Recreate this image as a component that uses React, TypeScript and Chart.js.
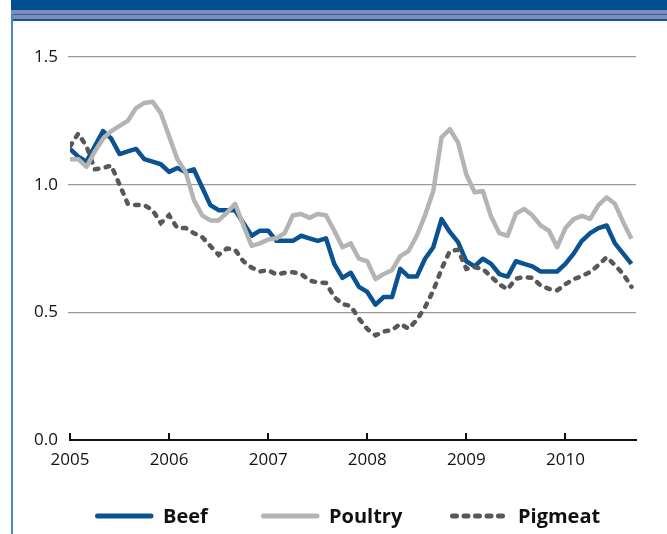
import React, { useEffect, useRef } from "react";
import { Chart, registerables } from "chart.js";

Chart.register(...registerables);

const years = ["2005", "2006", "2007", "2008", "2009", "2010"];
const yTicks = [0, 0.5, 1.0, 1.5];

const beef = [
  1.14, 1.11, 1.09, 1.15, 1.21, 1.18, 1.12, 1.13, 1.14, 1.10, 1.09, 1.08,
  1.05, 1.065, 1.05, 1.06, 0.99, 0.92, 0.90, 0.90, 0.90, 0.85, 0.80, 0.82,
  0.82, 0.78, 0.78, 0.78, 0.80, 0.79, 0.78, 0.79, 0.69, 0.635, 0.655, 0.60,
  0.58, 0.53, 0.56, 0.56, 0.67, 0.64, 0.64, 0.71, 0.755, 0.865, 0.815, 0.775,
  0.70, 0.68, 0.71, 0.69, 0.65, 0.64, 0.70, 0.69, 0.68, 0.66, 0.66, 0.66,
  0.69, 0.73, 0.78, 0.81, 0.83, 0.84, 0.77, 0.73, 0.69,
];

const poultry = [
  1.10, 1.10, 1.07, 1.13, 1.18, 1.21, 1.23, 1.25, 1.30, 1.32, 1.325, 1.28,
  1.19, 1.10, 1.05, 0.94, 0.88, 0.86, 0.86, 0.89, 0.925, 0.84, 0.76, 0.77,
  0.785, 0.79, 0.81, 0.88, 0.885, 0.87, 0.885, 0.88, 0.82, 0.755, 0.77, 0.71,
  0.70, 0.63, 0.65, 0.665, 0.72, 0.74, 0.80, 0.88, 0.975, 1.185, 1.217, 1.165,
  1.04, 0.97, 0.975, 0.875, 0.81, 0.80, 0.886, 0.905, 0.88, 0.84, 0.82, 0.755,
  0.83, 0.865, 0.878, 0.866, 0.92, 0.95, 0.925, 0.853, 0.788,
];

const pigmeat = [
  1.15, 1.20, 1.15, 1.06, 1.065, 1.075, 1.00, 0.925, 0.92, 0.92, 0.90, 0.85,
  0.88, 0.83, 0.83, 0.81, 0.795, 0.76, 0.725, 0.75, 0.745, 0.70, 0.675, 0.66,
  0.665, 0.648, 0.655, 0.657, 0.65, 0.625, 0.617, 0.615, 0.56, 0.532, 0.525, 0.475,
  0.435, 0.41, 0.425, 0.43, 0.455, 0.436, 0.47, 0.52, 0.585, 0.67, 0.74, 0.745,
  0.67, 0.677, 0.67, 0.64, 0.61, 0.59, 0.632, 0.638, 0.635, 0.605, 0.592, 0.586,
  0.61, 0.63, 0.642, 0.658, 0.685, 0.716, 0.685, 0.65, 0.60,
];

const seriesNames = ["Beef", "Poultry", "Pigmeat"];

const BEEF_COLOR = "#0a5291";
const POULTRY_COLOR = "#b4b4b4";
const PIG_COLOR = "#58585a";
const FONT = "'Open Sans', 'DejaVu Sans', sans-serif";

const toPoints = (arr: number[]) => arr.map((v, i) => ({ x: i, y: v }));

const innerTicksAndLegend = {
  id: "innerTicksAndLegend",
  afterDraw(chart: any) {
    const ctx = chart.ctx;
    const xs = chart.scales.x;
    const area = chart.chartArea;
    ctx.save();
    // upward tick marks on the x axis
    ctx.strokeStyle = "#111";
    ctx.lineWidth = 2;
    years.forEach((_, i) => {
      const px = Math.round(xs.getPixelForValue(i * 12));
      ctx.beginPath();
      ctx.moveTo(px, area.bottom);
      ctx.lineTo(px, area.bottom - 7);
      ctx.stroke();
    });
    // legend
    const items = [
      { x: 95, text: seriesNames[0], color: BEEF_COLOR, dash: [] as number[] },
      { x: 261, text: seriesNames[1], color: POULTRY_COLOR, dash: [] as number[] },
      { x: 450, text: seriesNames[2], color: PIG_COLOR, dash: [4, 7.5] },
    ];
    const ly = 516;
    items.forEach((it) => {
      ctx.beginPath();
      ctx.setLineDash(it.dash);
      ctx.lineCap = "round";
      ctx.lineWidth = 5;
      ctx.strokeStyle = it.color;
      ctx.moveTo(it.x + 2.5, ly);
      ctx.lineTo(it.x + 56, ly);
      ctx.stroke();
      ctx.setLineDash([]);
      ctx.fillStyle = "#111";
      ctx.font = `bold 20px ${FONT}`;
      ctx.textBaseline = "middle";
      ctx.textAlign = "left";
      ctx.fillText(it.text, it.x + 68, ly + 1);
    });
    ctx.restore();
  },
};

export default function App() {
  const ref = useRef<HTMLCanvasElement | null>(null);

  useEffect(() => {
    if (!ref.current) return;
    const chart = new Chart(ref.current, {
      type: "line",
      data: {
        datasets: [
          {
            label: seriesNames[1],
            data: toPoints(poultry),
            borderColor: POULTRY_COLOR,
            borderWidth: 4.5,
            pointRadius: 0,
            tension: 0,
            borderJoinStyle: "round",
          },
          {
            label: seriesNames[2],
            data: toPoints(pigmeat),
            borderColor: PIG_COLOR,
            borderWidth: 4.5,
            borderDash: [3.5, 7.5],
            borderCapStyle: "round",
            pointRadius: 0,
            tension: 0,
          },
          {
            label: seriesNames[0],
            data: toPoints(beef),
            borderColor: BEEF_COLOR,
            borderWidth: 4.5,
            pointRadius: 0,
            tension: 0,
            borderJoinStyle: "round",
          },
        ],
      },
      options: {
        animation: false,
        responsive: false,
        maintainAspectRatio: false,
        layout: { padding: { top: 57, right: 31, left: 0, bottom: 0 } },
        plugins: {
          legend: { display: false },
          tooltip: { enabled: false },
        },
        scales: {
          x: {
            type: "linear",
            min: 0,
            max: 68.55,
            afterBuildTicks: (s: any) => {
              s.ticks = years.map((_, i) => ({ value: i * 12 }));
            },
            afterFit: (s: any) => {
              s.height = 94;
            },
            ticks: {
              autoSkip: false,
              maxRotation: 0,
              padding: 10,
              color: "#111",
              font: { family: FONT, size: 17 },
              callback: (v: any) => years[Math.round(Number(v) / 12)] ?? "",
            },
            grid: { display: false, drawTicks: false },
            border: { display: true, color: "#111", width: 2 },
          },
          y: {
            min: 0,
            max: 1.5,
            afterBuildTicks: (s: any) => {
              s.ticks = yTicks.map((v) => ({ value: v }));
            },
            afterFit: (s: any) => {
              s.width = 70;
            },
            ticks: {
              padding: 10,
              color: "#111",
              font: { family: FONT, size: 17 },
              callback: (v: any) => Number(v).toFixed(1),
            },
            grid: {
              drawTicks: true,
              tickLength: 2,
              color: (c: any) => (c.tick && c.tick.value === 0 ? "rgba(0,0,0,0)" : "#9a9a9a"),
              lineWidth: 1.2,
            },
            border: { display: false },
          },
        },
      },
      plugins: [innerTicksAndLegend],
    });
    return () => chart.destroy();
  }, []);

  return (
    <div style={{ position: "fixed", left: 0, top: 0, width: 667, height: 534, background: "#fff", overflow: "hidden" }}>
      <canvas ref={ref} width={667} height={534} style={{ position: "absolute", left: 0, top: 0, width: 667, height: 534 }} />
      <div style={{ position: "absolute", left: 11, top: 0, width: 656, height: 10, background: "#00508f" }} />
      <div style={{ position: "absolute", left: 11, top: 10, width: 656, height: 10, background: "#7e8cb8" }} />
      <div style={{ position: "absolute", left: 12, top: 14, width: 655, height: 1, background: "#2f5f9a" }} />
      <div style={{ position: "absolute", left: 12, top: 18.5, width: 655, height: 2, background: "#0d5595" }} />
      <div style={{ position: "absolute", left: 11, top: 14, width: 1.5, height: 520, background: "#4a87c0" }} />
    </div>
  );
}
